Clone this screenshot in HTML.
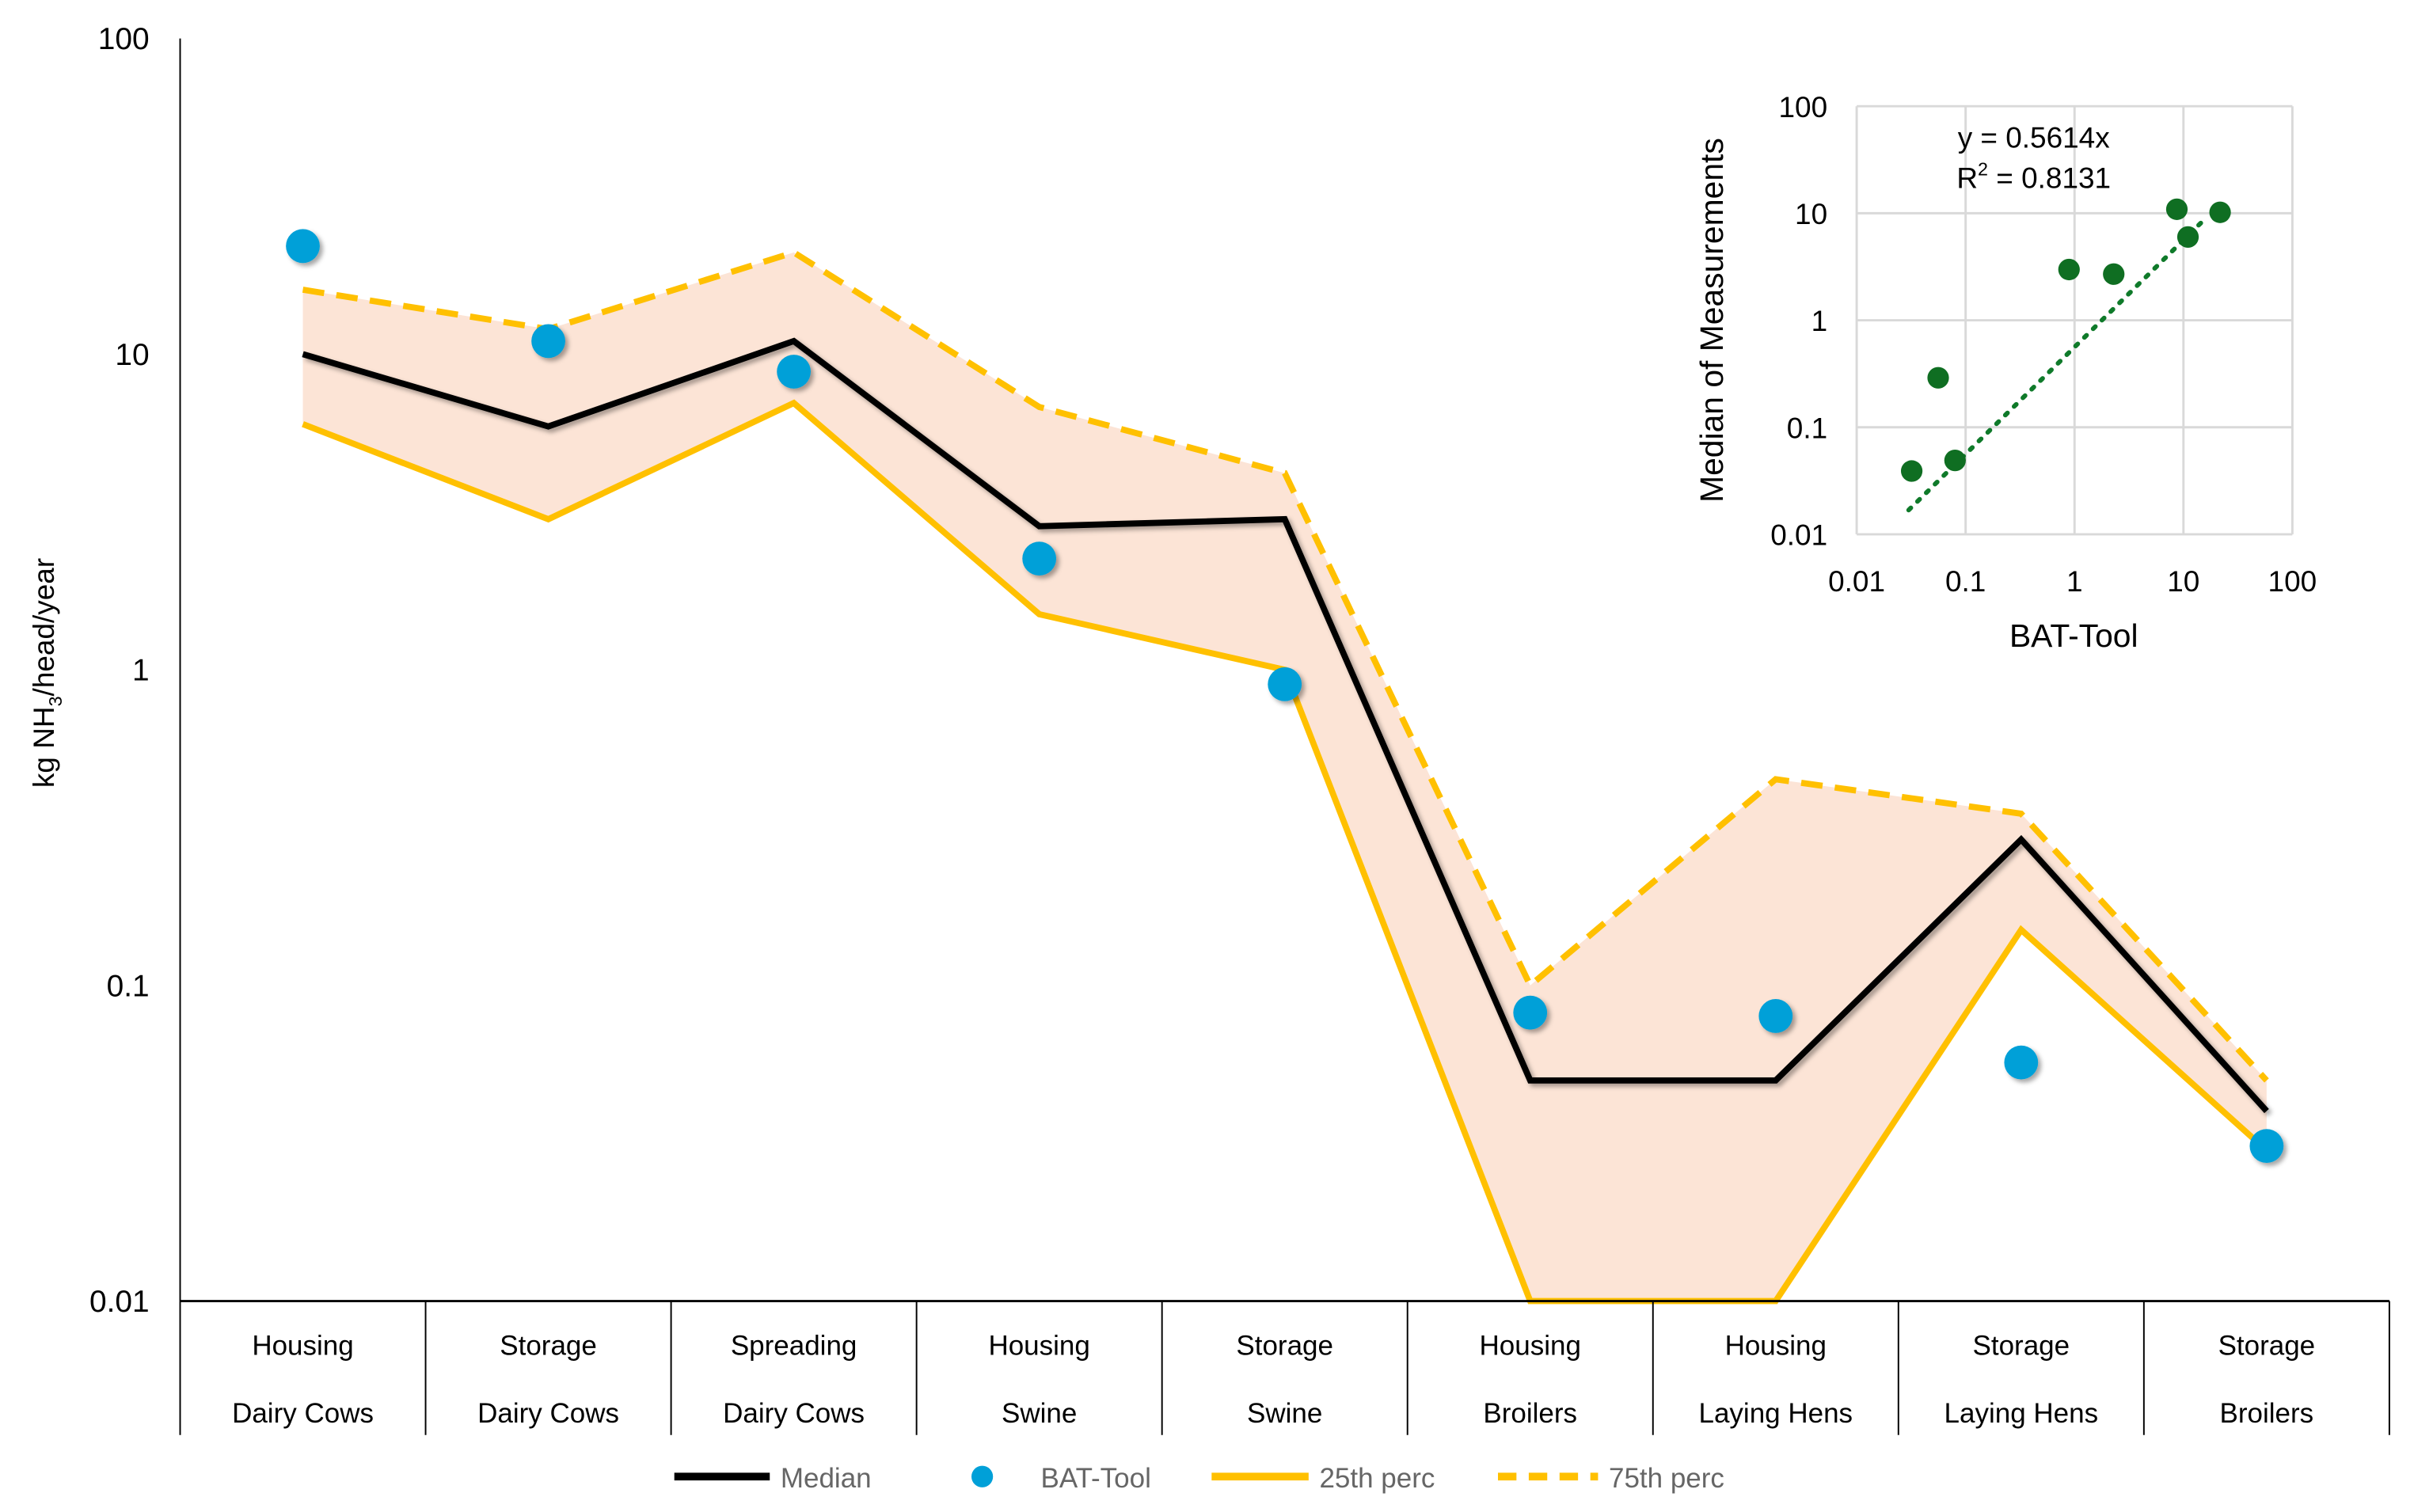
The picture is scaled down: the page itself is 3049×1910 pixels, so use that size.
<!DOCTYPE html>
<html><head><meta charset="utf-8"><style>
html,body{margin:0;padding:0;background:#fff;}
svg{display:block;font-family:"Liberation Sans",sans-serif;}
</style></head><body>
<svg id="chart" width="3049" height="1910" viewBox="0 0 1568 982" preserveAspectRatio="none" xmlns="http://www.w3.org/2000/svg">
<defs><filter id="sh" x="-50%" y="-50%" width="200%" height="200%"><feDropShadow dx="2" dy="2" stdDeviation="1.5" flood-color="#000" flood-opacity="0.35"/></filter></defs>
<g id="main"></g>
<g id="inset"></g>
</svg>
<script>
const categoriesTop = ["Housing","Storage","Spreading","Housing","Storage","Housing","Housing","Storage","Storage"];
const categoriesBottom = ["Dairy Cows","Dairy Cows","Dairy Cows","Swine","Swine","Broilers","Laying Hens","Laying Hens","Broilers"];
const medianVals = [10, 5.9, 11, 2.85, 3.0, 0.05, 0.05, 0.29, 0.04];
const p25Vals = [6, 3.0, 7, 1.5, 1.0, 0.01, 0.01, 0.15, 0.03];
const p75Vals = [16, 12, 21, 6.8, 4.2, 0.1, 0.45, 0.35, 0.05];
const batVals = [22, 11, 8.8, 2.25, 0.9, 0.082, 0.08, 0.057, 0.031];
const yTicks = [100, 10, 1, 0.1, 0.01];
const yTickLabels = ["100","10","1","0.1","0.01"];
const insetX = [0.032, 0.056, 0.08, 0.89, 2.29, 8.7, 11, 21.7];
const insetY = [0.039, 0.29, 0.049, 2.98, 2.7, 10.9, 6.0, 10.2];
const insetTicks = [0.01, 0.1, 1, 10, 100];
const insetTickLabels = ["0.01","0.1","1","10","100"];
const slope = 0.5614;
const trendRange = [0.03, 16];

const NS="http://www.w3.org/2000/svg";
function mk(tag, attrs, parent, text){const e=document.createElementNS(NS,tag);for(const k in attrs)e.setAttribute(k,attrs[k]);if(text!==undefined)e.textContent=text;parent.appendChild(e);return e;}

const L=117,R=1552,T=25,B=845;
const n=categoriesTop.length, cw=(R-L)/n;
const xc=i=>L+cw*(i+0.5);
const ylog=v=>B-(Math.log10(v)+2)*(B-T)/4;
const main=document.getElementById('main');

let pts=[];
for(let i=0;i<n;i++)pts.push(xc(i)+','+ylog(p75Vals[i]));
for(let i=n-1;i>=0;i--)pts.push(xc(i)+','+ylog(p25Vals[i]));
const band=mk('polygon',{points:pts.join(' '),fill:'#FCE4D6',stroke:'none'},main);



function line(vals,attrs,name){const p=vals.map((v,i)=>xc(i)+','+ylog(v)).join(' ');const e=mk('polyline',Object.assign({points:p,fill:'none','stroke-linejoin':'miter'},attrs),main);

return e;}
line(p25Vals,{stroke:'#FFC000','stroke-width':4},'line-25th-perc');
line(p75Vals,{stroke:'#FFC000','stroke-width':4,'stroke-dasharray':'14,8'},'line-75th-perc');
line(medianVals,{stroke:'#000','stroke-width':4,filter:'url(#sh)'},'line-median');

batVals.forEach((v,i)=>{const c=mk('circle',{cx:xc(i),cy:ylog(v),r:11,fill:'#00A0D8',filter:'url(#sh)'},main);

});

const ya=mk('line',{x1:L,y1:T,x2:L,y2:B,stroke:'#000','stroke-width':1},main);


const xa=mk('line',{x1:L,y1:B,x2:R,y2:B,stroke:'#000','stroke-width':1.5},main);


for(let i=0;i<=n;i++){const d=mk('line',{x1:L+cw*i,y1:B,x2:L+cw*i,y2:932,stroke:'#000','stroke-width':1},main);

}
yTicks.forEach((t,i)=>{const e=mk('text',{x:97,y:ylog(t)+7,'text-anchor':'end','font-size':20,fill:'#000'},main,yTickLabels[i]);

});
for(let i=0;i<n;i++){
const a=mk('text',{x:xc(i),y:880,'text-anchor':'middle','font-size':18,fill:'#000'},main,categoriesTop[i]);


const b=mk('text',{x:xc(i),y:924,'text-anchor':'middle','font-size':18,fill:'#000'},main,categoriesBottom[i]);

}
const yt=mk('text',{transform:'translate(35,437) rotate(-90)','text-anchor':'middle','font-size':19,fill:'#000'},main);


yt.innerHTML='kg NH<tspan font-size="12" dy="5">3</tspan><tspan dy="-5">/head/year</tspan>';

const lg=mk('g',{},main);


function le(name){const g=mk('g',{},lg);return g;}
let g=le('legend-median');mk('line',{x1:438,y1:959,x2:500,y2:959,stroke:'#000','stroke-width':5},g);mk('text',{x:507,y:966,'font-size':18,fill:'#666'},g,'Median');
g=le('legend-bat-tool');mk('circle',{cx:638,cy:959,r:7,fill:'#00A0D8'},g);mk('text',{x:676,y:966,'font-size':18,fill:'#666'},g,'BAT-Tool');
g=le('legend-25th-perc');mk('line',{x1:787,y1:959,x2:850,y2:959,stroke:'#FFC000','stroke-width':5},g);mk('text',{x:857,y:966,'font-size':18,fill:'#666'},g,'25th perc');
g=le('legend-75th-perc');mk('line',{x1:973,y1:959,x2:1038,y2:959,stroke:'#FFC000','stroke-width':5,'stroke-dasharray':'12,8'},g);mk('text',{x:1045,y:966,'font-size':18,fill:'#666'},g,'75th perc');

const inset=document.getElementById('inset');
const IL=1206,IR=1489,IT=69,IB=347;
const ix=v=>IL+(Math.log10(v)+2)*(IR-IL)/4;
const iy=v=>IB-(Math.log10(v)+2)*(IB-IT)/4;
insetTicks.forEach((t,i)=>{
const gv=mk('line',{x1:ix(t),y1:IT,x2:ix(t),y2:IB,stroke:'#d9d9d9','stroke-width':1.5},inset);


const gh=mk('line',{x1:IL,y1:iy(t),x2:IR,y2:iy(t),stroke:'#d9d9d9','stroke-width':1.5},inset);


const tx=mk('text',{x:ix(t),y:384,'text-anchor':'middle','font-size':19,fill:'#000'},inset,insetTickLabels[i]);


const ty=mk('text',{x:1187,y:iy(t)+7,'text-anchor':'end','font-size':19,fill:'#000'},inset,insetTickLabels[i]);

});
const tl=mk('line',{x1:ix(trendRange[0]),y1:iy(trendRange[0]*slope),x2:ix(trendRange[1]),y2:iy(trendRange[1]*slope),stroke:'#0F7A2A','stroke-width':3,'stroke-dasharray':'2,6','stroke-linecap':'round'},inset);


insetX.forEach((v,i)=>{const c=mk('circle',{cx:ix(v),cy:iy(insetY[i]),r:7,fill:'#0F6E22'},inset);

});
const eq=mk('text',{x:1321,y:96,'text-anchor':'middle','font-size':19,fill:'#000'},inset,'y = 0.5614x');


const r2=mk('text',{x:1321,y:122,'text-anchor':'middle','font-size':19,fill:'#000'},inset);


r2.innerHTML='R<tspan font-size="12" dy="-8">2</tspan><tspan dy="8"> = 0.8131</tspan>';
const ixt=mk('text',{x:1347,y:420,'text-anchor':'middle','font-size':21,fill:'#000'},inset,'BAT-Tool');


const iyt=mk('text',{transform:'translate(1119,208) rotate(-90)','text-anchor':'middle','font-size':21,fill:'#000'},inset,'Median of Measurements');


</script>
</body></html>
